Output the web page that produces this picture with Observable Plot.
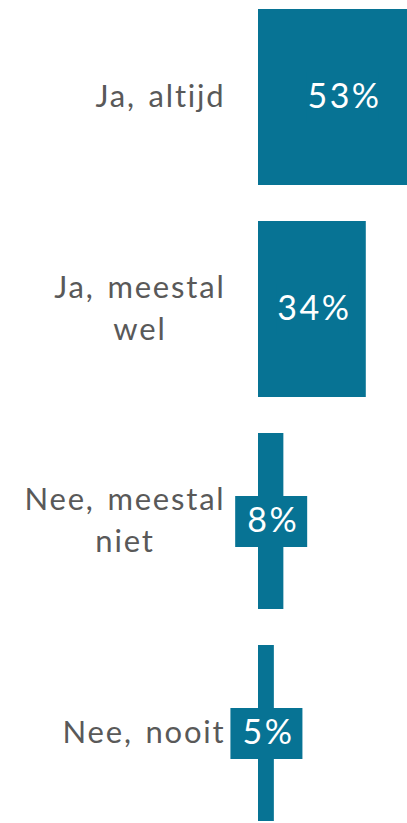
<!DOCTYPE html>
<html>
<head>
<meta charset="utf-8">
<script src="https://cdn.jsdelivr.net/npm/d3@7"></script>
<script src="https://cdn.jsdelivr.net/npm/@observablehq/plot@0.6"></script>
<style>
  html, body { margin: 0; padding: 0; background: #fff; overflow: hidden; }
  #chart svg { display: block; }
</style>
</head>
<body>
<div id="chart"></div>
<script>
const categories = ["Ja, altijd", "Ja, meestal\nwel", "Nee, meestal\nniet", "Nee, nooit"];
const values = [53, 34, 8, 5];
const valueLabels = ["53%", "34%", "8%", "5%"];

const data = categories.map((c, i) => ({category: c, value: values[i], label: valueLabels[i]}));

const barColor = "#077394";
const boxSymbol = {
  draw(context) {
    context.rect(-36, -25.5, 72, 51);
  }
};

const chart = Plot.plot({
  width: 407,
  height: 823,
  marginLeft: 258,
  marginRight: 0,
  marginTop: 7,
  marginBottom: 0,
  style: {fontFamily: "Lato, sans-serif", overflow: "hidden", background: "#fff"},
  x: {domain: [0, 47], axis: null},
  y: {domain: categories, padding: 0.169, paddingOuter: 0, axis: null},
  marks: [
    Plot.barX(data, {y: "category", x: "value", fill: barColor, clip: true}),
    Plot.dot(data, {x: d => d.value / 2, y: "category", symbol: boxSymbol, r: 1, fill: barColor, stroke: null}),
    Plot.text(data, {x: d => d.value / 2, y: "category", text: "label", fill: "white", fontSize: 34, dx: 2, textAnchor: "middle"}),
    Plot.text(data, {x: 0, y: "category", text: "category", dx: -33, dy: -4, textAnchor: "end", fill: "#595959", fontSize: 31, lineHeight: 1.37})
  ]
});
document.getElementById("chart").appendChild(chart);

const catLines = new Set(categories.flatMap(c => c.split("\n")));
chart.querySelectorAll("text").forEach(t => {
  const spans = t.querySelectorAll("tspan");
  const parts = spans.length ? Array.from(spans, s => s.textContent) : [t.textContent];
  if (parts.every(p => catLines.has(p))) {
    t.style.letterSpacing = "1.8px";
    t.style.wordSpacing = "3px";
    if (spans.length > 1) {
      const w = Math.max(...Array.from(spans, s => s.getComputedTextLength()));
      t.setAttribute("text-anchor", "middle");
      spans.forEach(s => s.setAttribute("x", -w / 2));
    }
  } else if (valueLabels.includes(t.textContent)) {
    t.style.letterSpacing = "2.5px";
  }
});
</script>
</body>
</html>
